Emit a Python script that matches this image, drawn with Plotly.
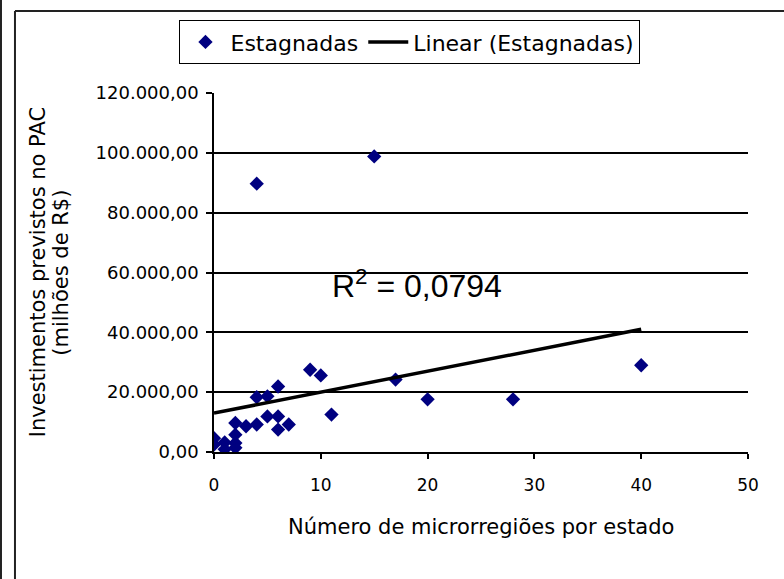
import plotly.graph_objects as go

# Data
micro_x = [4, 15, 40, 28, 20, 17, 9, 10, 11, 6, 4, 5, 2, 3, 4, 5, 6, 7, 6,
           0, 0, 1, 1, 2, 2, 2]
invest_y = [89700, 98800, 29000, 17600, 17600, 24200, 27500, 25600, 12500, 21900,
            18300, 18600, 9700, 8600, 9200, 11900, 11900, 9200, 7500,
            4600, 2500, 3200, 900, 5800, 3000, 1400]

trend_x = [0, 40]
trend_y = [13000, 41000]
r2_label = "R<sup>2</sup> = 0,0794"

y_ticks = [0, 20000, 40000, 60000, 80000, 100000, 120000]
y_ticktext = ["0,00", "20.000,00", "40.000,00", "60.000,00", "80.000,00",
              "100.000,00", "120.000,00"]
grid_ticks = [20000, 40000, 60000, 80000, 100000]
x_ticks = [0, 10, 20, 30, 40, 50]

FONT = "Liberation Sans, Arial, sans-serif"
WIDE = "DejaVu Sans, Verdana, sans-serif"

fig = go.Figure()
fig.add_trace(go.Scatter(
    x=micro_x, y=invest_y, mode="markers", name="Estagnadas",
    marker=dict(symbol="diamond", size=11, color="#000080",
                line=dict(width=0)),
))
fig.add_trace(go.Scatter(
    x=trend_x, y=trend_y, mode="lines", name="Linear (Estagnadas)",
    line=dict(color="black", width=3.5),
))
# empty trace to anchor the grid-only overlay axis
fig.add_trace(go.Scatter(x=[None], y=[None], yaxis="y2", showlegend=False,
                         hoverinfo="skip", mode="markers"))

fig.update_layout(
    width=784, height=579,
    margin=dict(l=214, r=36, t=93, b=127, autoexpand=False),
    paper_bgcolor="white", plot_bgcolor="white",
    font=dict(family=WIDE, color="black", size=16),
    showlegend=True,
    legend=dict(
        orientation="h", x=0.367, xanchor="center", y=1.203, yanchor="top",
        bordercolor="black", borderwidth=1, bgcolor="white",
        font=dict(family=WIDE, size=22, color="black"),
        itemwidth=40,
    ),
    xaxis=dict(
        range=[0, 50], tickvals=x_ticks, ticks="outside", ticklen=5,
        tickwidth=1.5, tickcolor="black", showline=True, linecolor="black",
        linewidth=1.5, showgrid=False, zeroline=False,
        tickfont=dict(family=WIDE, size=17), ticklabelstandoff=12,
    ),
    yaxis=dict(
        range=[0, 120000], tickvals=y_ticks, ticktext=y_ticktext,
        ticks="outside", ticklen=6, tickwidth=1.5, tickcolor="black",
        showline=True, linecolor="black", linewidth=1.5, showgrid=False,
        zeroline=False, tickfont=dict(family=WIDE, size=18),
        ticklabelstandoff=4,
    ),
    yaxis2=dict(
        range=[0, 120000], overlaying="y", side="left", tickvals=grid_ticks,
        showticklabels=False, ticks="", showgrid=True, gridcolor="black",
        gridwidth=1.5, zeroline=False, showline=False,
    ),
    shapes=[
        dict(type="line", xref="paper", yref="paper", x0=-0.3989, x1=-0.3989,
             y0=-0.36, y1=1.3, line=dict(color="#222", width=2)),
        dict(type="line", xref="paper", yref="paper", x0=-0.3727, x1=-0.3727,
             y0=-0.36, y1=1.2284, line=dict(color="#222", width=2)),
        dict(type="line", xref="paper", yref="paper", x0=-0.3727, x1=1.1,
             y0=1.2284, y1=1.2284, line=dict(color="#222", width=2)),
    ],
    annotations=[
        dict(text="Investimentos previstos no PAC", xref="paper", yref="paper",
             x=-0.330, y=0.50, textangle=-90, showarrow=False,
             xanchor="center", yanchor="middle", font=dict(family=WIDE, size=21)),
        dict(text="(milhões de R$)", xref="paper", yref="paper",
             x=-0.288, y=0.50, textangle=-90, showarrow=False,
             xanchor="center", yanchor="middle", font=dict(family=WIDE, size=21)),
        dict(text="Número de microrregiões por estado", xref="paper",
             yref="paper", x=0.5, y=-0.21, showarrow=False,
             xanchor="center", yanchor="middle", font=dict(family=WIDE, size=21)),
        dict(text=r2_label, xref="x", yref="y", x=19.0, y=56000,
             showarrow=False, xanchor="center", yanchor="middle",
             font=dict(family=FONT, size=32)),
    ],
)

fig.write_html("out.html", post_script="document.body.style.margin='0';",
               config={"displayModeBar": False})
